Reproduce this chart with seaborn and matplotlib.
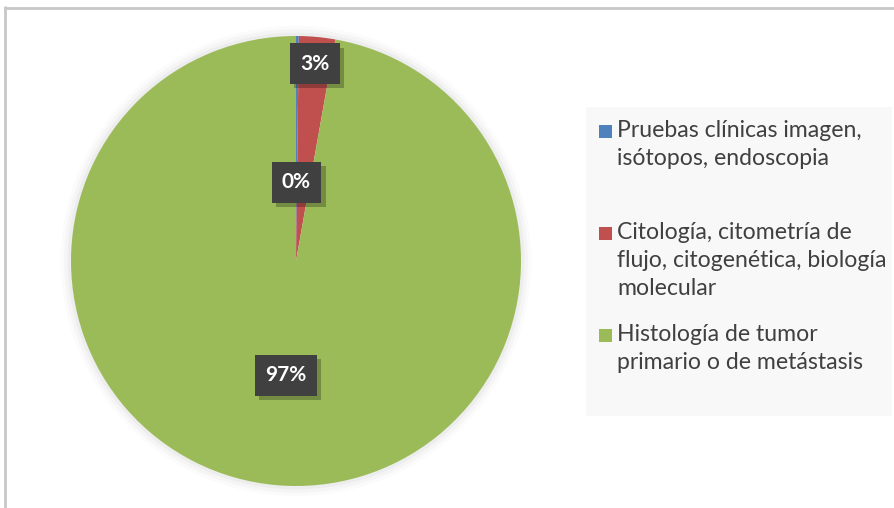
import matplotlib
matplotlib.use("Agg")
import matplotlib.pyplot as plt
import matplotlib.patheffects as pe
import seaborn as sns
import numpy as np
from matplotlib.patches import Rectangle, Circle
from matplotlib.lines import Line2D

# data
categories = [
    "Pruebas clínicas imagen,\nisótopos, endoscopia",
    "Citología, citometría de\nflujo, citogenética, biología\nmolecular",
    "Histología de tumor\nprimario o de metástasis",
]
values = [0.2, 2.6, 97.2]
pct_labels = ["0%", "3%", "97%"]
colors = ["#4F81BD", "#C0504D", "#9BBB59"]

sns.set_theme(style="white")
plt.rcParams["font.family"] = ["Lato", "DejaVu Sans"]

W, H = 894, 508
fig = plt.figure(figsize=(W / 100, H / 100), dpi=100)
fig.patch.set_facecolor("white")


def fx(px):
    return px / W


def fy(py):
    return 1 - py / H


# outer chart border (top and left visible)
fig.add_artist(Line2D([fx(5), fx(5)], [0, fy(7)], color="#C8C8C8", lw=2))
fig.add_artist(Line2D([fx(5), 1], [fy(7.5), fy(7.5)], color="#C8C8C8", lw=2))

# pie axes: center (296, 261), radius 225 px
cx, cy, R = 296, 261, 225
m = 15
ax = fig.add_axes([fx(cx - R - m), fy(cy + R + m), (2 * R + 2 * m) / W, (2 * R + 2 * m) / H])

# soft glow behind pie
for r, a in [(1.045, 0.04), (1.03, 0.06), (1.015, 0.08)]:
    ax.add_patch(Circle((0, 0), r, color="#999999", alpha=a, lw=0, zorder=0))

wedges, _ = ax.pie(values, colors=colors, startangle=90, counterclock=False,
                   radius=1, wedgeprops=dict(linewidth=0))
ax.set_xlim(-1 - m / R, 1 + m / R)
ax.set_ylim(-1 - m / R, 1 + m / R)
ax.set_aspect("equal")
ax.axis("off")

# label boxes at slice mid angles
label_dist = [0.35, 0.88, 0.51]
for w, lab, d in zip(wedges, pct_labels, label_dist):
    th = np.deg2rad((w.theta1 + w.theta2) / 2)
    x, y = d * np.cos(th), d * np.sin(th)
    t = ax.text(x, y, lab, fontsize=15, fontweight="bold", color="white",
                ha="center", va="center", zorder=5,
                bbox=dict(boxstyle="square,pad=0.5", fc="#404040", ec="none"))
    t.get_bbox_patch().set_path_effects(
        [pe.SimplePatchShadow(offset=(3, -3), shadow_rgbFace="#000000", alpha=0.25), pe.Normal()])

# legend area
fig.add_artist(Rectangle((fx(586), fy(416)), (892 - 586) / W, (416 - 107) / H,
                         transform=fig.transFigure, fc="#F8F8F8", ec="none"))

entry_tops = [132, 234, 336]
for lab, col, ytop in zip(categories, colors, entry_tops):
    fig.add_artist(Rectangle((fx(599), fy(ytop + 6)), 13 / W, 13 / H,
                             transform=fig.transFigure, fc=col, ec="none"))
    fig.text(fx(617), fy(ytop - 12), lab, fontsize=16.6, color="#404040",
             ha="left", va="top", linespacing=1.4)

fig.savefig("out.png", dpi=100)
